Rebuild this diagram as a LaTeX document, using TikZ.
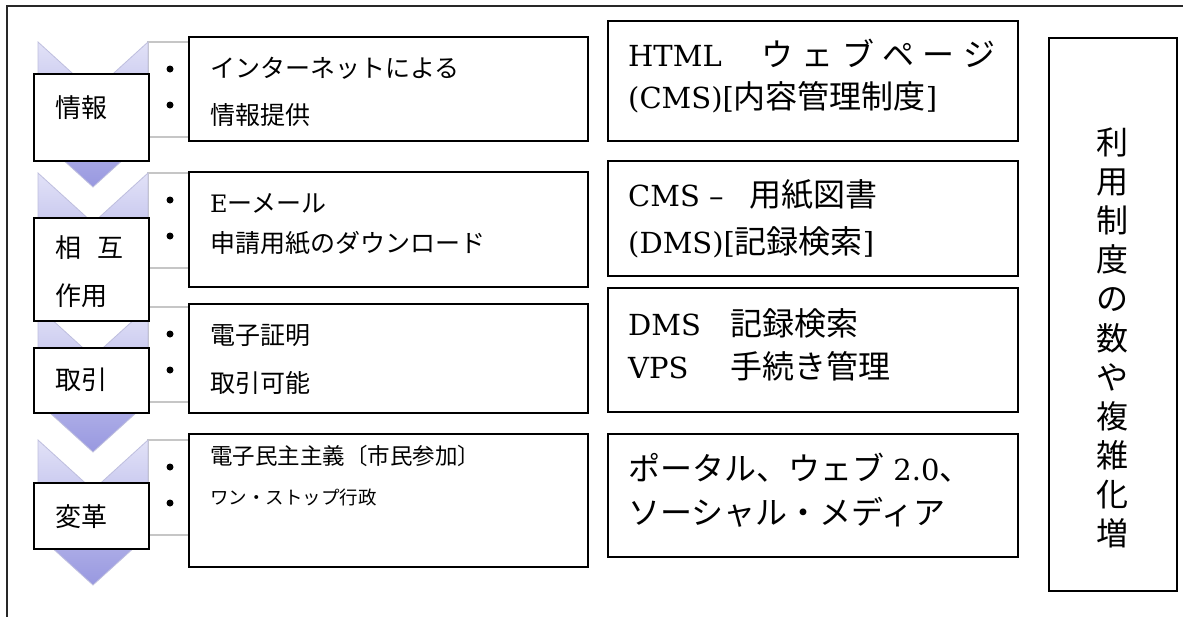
\documentclass[tikz,border=0pt]{standalone}
\usepackage{fontspec}
\newfontfamily\jp{Noto Sans CJK JP}
\newfontfamily\lat{DejaVu Serif}
\definecolor{lavtop}{RGB}{226,226,247}
\definecolor{lavbot}{RGB}{152,152,224}
\definecolor{chevline}{RGB}{190,190,222}
\definecolor{framec}{RGB}{40,40,40}
\tikzset{
  chev/.style={draw=chevline, line width=0.8pt, top color=lavtop, bottom color=lavbot},
  listbg/.style={draw=gray!45, line width=1.2pt, fill=white},
  lbox/.style={draw=black, line width=2pt, fill=white, inner sep=0pt, anchor=north west},
  txt/.style={anchor=west, inner sep=0pt},
  bul/.style={circle, fill=black, inner sep=0pt, minimum size=7pt},
  atext/.style={txt, font=\jp\fontsize{25}{30}\selectfont},
  btext/.style={txt, font=\lat\fontsize{29}{36}\selectfont},
  ltext/.style={txt, font=\jp\fontsize{26}{30}\selectfont},
}
\newcommand{\bj}[1]{{\jp\fontsize{32}{36}\selectfont #1}}
\begin{document}
\begin{tikzpicture}[x=1pt,y=-1pt]
\useasboundingbox (0,0) rectangle (1183,616);
\clip (0,0) rectangle (1183,616);
\fill[white] (0,0) rectangle (1183,616);
% outer frame
\draw[framec, line width=2pt] (7,626) -- (7,6) -- (1195,6);

% chevrons and list backgrounds
\foreach \T [count=\i] in {42,173,307,440}{
  \draw[listbg] (148,\T) rectangle (560,\T+95);
  \draw[chev] (38,\T) -- (93,\T+50) -- (148,\T) -- (148,\T+95) -- (93,\T+145) -- (38,\T+95) -- cycle;
  \node[bul] (b\i a) at (170,\T+27) {};
  \node[bul] (b\i b) at (170,\T+63) {};
}

% label boxes
\node[lbox, minimum width=115pt, minimum height=87pt] (l1) at (33,73) {};
\node[ltext] (l1t) at (55,108) {情報};
\node[lbox, minimum width=115pt, minimum height=103pt] (l2) at (33,217) {};
\node[ltext] (l2t) at (55,248) {相\hspace{16pt}互};
\node[ltext] (l2u) at (55,296) {作用};
\node[lbox, minimum width=115pt, minimum height=65pt] (l3) at (33,347) {};
\node[ltext] (l3t) at (55,380) {取引};
\node[lbox, minimum width=115pt, minimum height=66pt] (l4) at (33,482) {};
\node[ltext] (l4t) at (55,517) {変革};

% middle boxes
\node[lbox, minimum width=399pt, minimum height=104pt] (a1) at (188,36) {};
\node[atext] (a1t) at (210,68) {インターネットによる};
\node[atext] (a1u) at (210,115) {情報提供};
\node[lbox, minimum width=399pt, minimum height=115pt] (a2) at (188,171) {};
\node[atext] (a2t) at (210,203) {{\lat\fontsize{24}{30}\selectfont E}ーメール};
\node[atext] (a2u) at (210,243) {申請用紙のダウンロード};
\node[lbox, minimum width=399pt, minimum height=109pt] (a3) at (188,303) {};
\node[atext] (a3t) at (210,336) {電子証明};
\node[atext] (a3u) at (210,383) {取引可能};
\node[lbox, minimum width=399pt, minimum height=133pt] (a4) at (188,433) {};
\node[txt, font=\jp\fontsize{22.5}{26}\selectfont] (a4t) at (210,456) {電子民主主義〔市民参加〕};
\node[txt, font=\jp\fontsize{18.5}{22}\selectfont] (a4u) at (210,497) {ワン・ストップ行政};

% right boxes
\node[lbox, minimum width=410pt, minimum height=120pt] (r1) at (607,20) {};
\node[btext] (r1t) at (628,53) {\makebox[133pt][l]{HTML}\bj{\makebox[234pt][s]{ウ\hfil ェ\hfil ブ\hfil ペ\hfil ー\hfil ジ}}};
\node[btext] (r1u) at (628,97) {(CMS)[\bj{内容管理制度}]};
\node[lbox, minimum width=410pt, minimum height=115pt] (r2) at (607,160) {};
\node[btext] (r2t) at (628,195) {\makebox[121pt][l]{CMS – }\bj{用紙図書}};
\node[btext] (r2u) at (628,242) {(DMS)[\bj{記録検索}]};
\node[lbox, minimum width=410pt, minimum height=124pt] (r3) at (607,287) {};
\node[btext] (r3t) at (628,323) {\makebox[102pt][l]{DMS}\bj{記録検索}};
\node[btext] (r3u) at (628,366) {\makebox[102pt][l]{VPS}\bj{手続き管理}};
\node[lbox, minimum width=410pt, minimum height=123pt] (r4) at (607,433) {};
\node[btext] (r4t) at (628,468) {\bj{ポータル、ウェブ} 2.0\bj{、}};
\node[btext] (r4u) at (628,512) {\bj{ソーシャル・メディア}};

% tall box
\node[lbox, minimum width=128pt, minimum height=553pt] (tall) at (1048,37) {};
\node[align=center, inner sep=0pt, font=\jp\fontsize{32}{39.1}\selectfont] (tallt) at (1112,338) {利\\用\\制\\度\\の\\数\\や\\複\\雑\\化\\増};
\end{tikzpicture}
\end{document}
